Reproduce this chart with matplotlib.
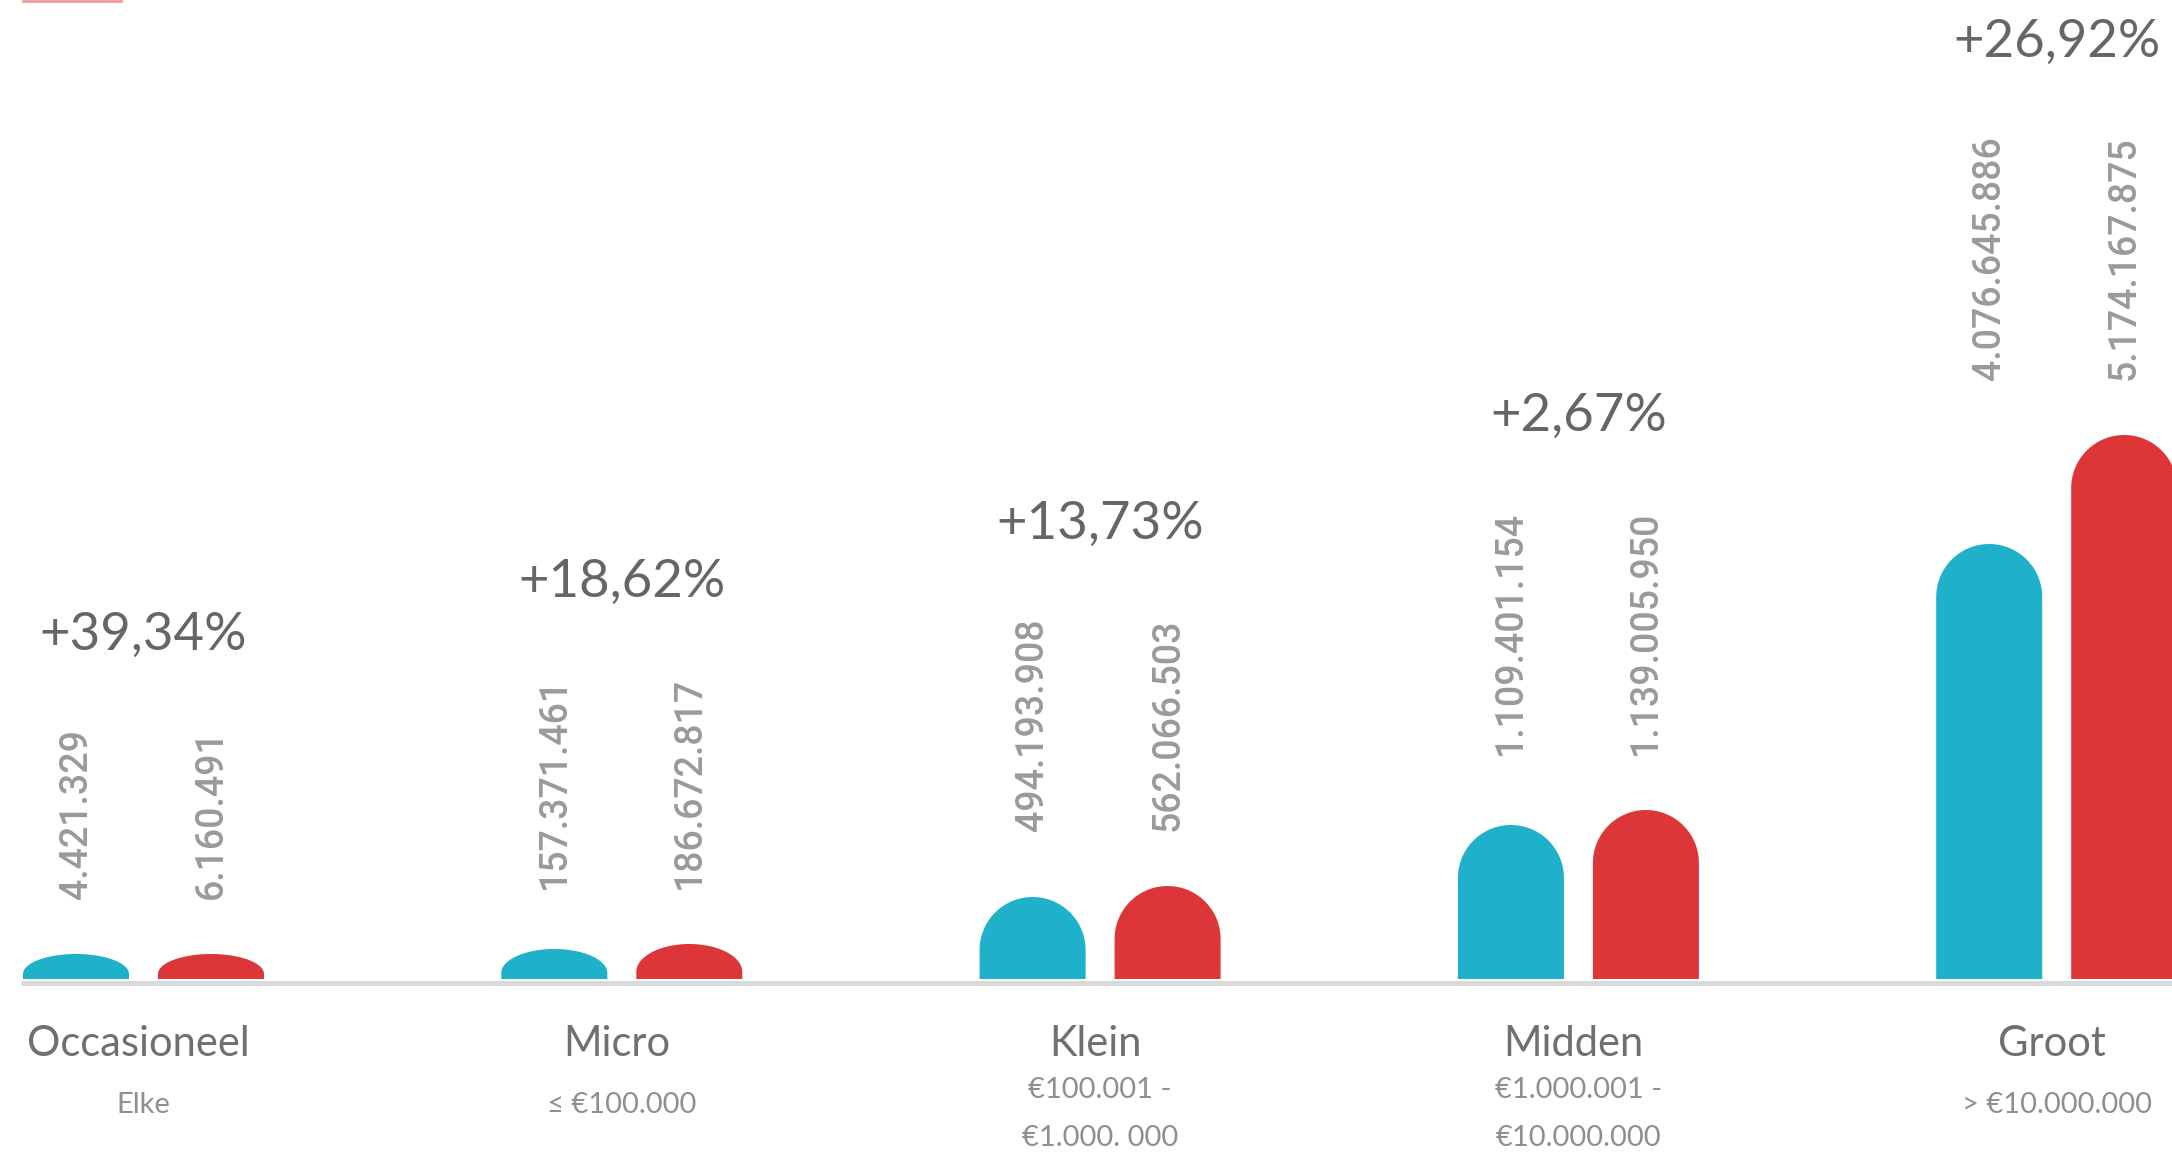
import numpy as np
import matplotlib.pyplot as plt
from matplotlib.patches import Polygon
from matplotlib.lines import Line2D

categories = ['Occasioneel', 'Micro', 'Klein', 'Midden', 'Groot']
ranges = ['Elke', '≤ €100.000', '€100.001 -\n€1.000. 000',
          '€1.000.001 -\n€10.000.000', '> €10.000.000']
prev_labels = ['4.421.329', '157.371.461', '494.193.908', '1.109.401.154', '4.076.645.886']
curr_labels = ['6.160.491', '186.672.817', '562.066.503', '1.139.005.950', '5.174.167.875']
growth = ['+39,34%', '+18,62%', '+13,73%', '+2,67%', '+26,92%']
# drawn bar heights as seen in the picture (not to scale with the values)
prev_height = [25, 30, 82, 154, 435]
curr_height = [25, 35, 93, 169, 544]

TEAL = '#1eb1c9'
RED = '#dd3639'

W, H = 2172, 1152
step = 478.3   # px between groups
x0 = 143.5     # px of first group centre
base = 979     # px from top to the bar foot

fig = plt.figure(figsize=(W / 100, H / 100), dpi=100)
ax = fig.add_axes([0, 0, 1, 1])
ax.set_xlim(-x0 / step, (W - x0) / step)
ax.set_ylim(-(H - base), base)
ax.axis('off')

bw = 106 / step
off = 135 / 2 / step


def rounded_bar(xc, h, color):
    "bar with a half round top, y is in px so the cap radius is scaled"
    rx = bw / 2
    ry = rx * step
    t = np.linspace(0, np.pi, 80)
    if h >= ry:
        ys = (h - ry) + ry * np.sin(t)
    else:
        side = h * 0.2
        ys = side + (h - side) * np.sin(t)
    xs = xc + rx * np.cos(t)
    xs = np.concatenate([[xc + rx], xs, [xc - rx]])
    ys = np.concatenate([[0], ys, [0]])
    ax.add_patch(Polygon(np.column_stack([xs, ys]), closed=True,
                         facecolor=color, edgecolor='none'))


val_texts = []
for i in range(len(categories)):
    rounded_bar(i - off, prev_height[i], TEAL)
    rounded_bar(i + off, curr_height[i], RED)
    ytxt = max(prev_height[i], curr_height[i]) + 55
    t1 = ax.text(i - off, ytxt, prev_labels[i], rotation=90, ha='center', va='bottom',
                 fontsize=27, color='#9a9a9a', family='Roboto', fontweight=500)
    t2 = ax.text(i + off, ytxt, curr_labels[i], rotation=90, ha='center', va='bottom',
                 fontsize=27, color='#9a9a9a', family='Roboto', fontweight=500)
    val_texts.append((t1, t2))

    ax.text(i - 0.01, -65, categories[i], ha='center', va='center', fontsize=30,
            color='#707070', family='Lato')
    nl = ranges[i].count('\n')
    ax.text(i, -126 - 9 * nl, ranges[i], ha='center', va='center', fontsize=21,
            color='#8f8f8f', family='Lato', linespacing=2.0)

# baseline
ax.plot([(21 - x0) / step, (W - x0) / step], [-4, -4], color='#d9d9d9',
        lw=3.6, solid_capstyle='butt')

fig.canvas.draw()
r = fig.canvas.get_renderer()
inv = ax.transData.inverted()
for i, (t1, t2) in enumerate(val_texts):
    top = max(t1.get_window_extent(r).y1, t2.get_window_extent(r).y1)
    ypx = min(top + 94, H - 20)
    y = inv.transform((0, ypx))[1]
    ax.text(i, y, growth[i], ha='center', va='center', fontsize=38,
            color='#666666', family='Lato')

fig.add_artist(Line2D([23 / W, 121 / W], [1 - 1 / H, 1 - 1 / H],
                      transform=fig.transFigure, color='#f29a9a', lw=2))

fig.savefig('out.png', dpi=100, facecolor='white')
